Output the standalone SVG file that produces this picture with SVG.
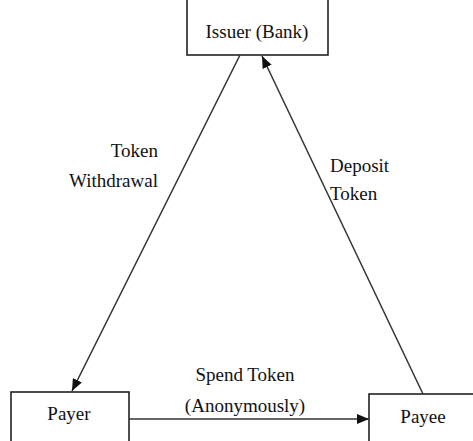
<svg xmlns="http://www.w3.org/2000/svg" width="473" height="441" viewBox="0 0 473 441">
<defs>
<style>
.box{fill:#fff;stroke:#222;stroke-width:1.6}
.t{font-family:"Liberation Serif","Times New Roman",serif;font-size:19px;fill:#111}
.ln{stroke:#333;stroke-width:1.5;fill:none;marker-end:url(#ah)}
</style>
<marker id="ah" viewBox="0 0 12 10" refX="12" refY="5" markerWidth="12" markerHeight="10" markerUnits="userSpaceOnUse" orient="auto">
<path d="M0,0 L12,5 L0,10 Z" fill="#111"/>
</marker>
</defs>
<rect width="473" height="441" fill="#fff"/>
<g id="issuer">
<rect class="box" x="187" y="-5" width="141" height="60"/>
<text class="t" x="257" y="38" text-anchor="middle">Issuer (Bank)</text>
</g>
<g id="payer">
<rect class="box" x="11" y="392" width="118" height="60"/>
<text class="t" x="69" y="420" text-anchor="middle">Payer</text>
</g>
<g id="payee">
<rect class="box" x="369" y="394" width="120" height="60"/>
<text class="t" x="423" y="423" text-anchor="middle">Payee</text>
</g>
<g id="connectors">
<line class="ln" x1="240" y1="55" x2="72" y2="391"/>
<line class="ln" x1="423" y1="394" x2="262" y2="56"/>
<line class="ln" x1="129" y1="419" x2="369" y2="419"/>
</g>
<g id="labels">
<text class="t" x="158" y="157" text-anchor="end">Token</text>
<text class="t" x="158" y="187" text-anchor="end">Withdrawal</text>
<text class="t" x="330" y="172">Deposit</text>
<text class="t" x="330" y="200">Token</text>
<text class="t" x="245" y="381" text-anchor="middle">Spend Token</text>
<text class="t" x="245" y="412" text-anchor="middle">(Anonymously)</text>
</g>
</svg>
